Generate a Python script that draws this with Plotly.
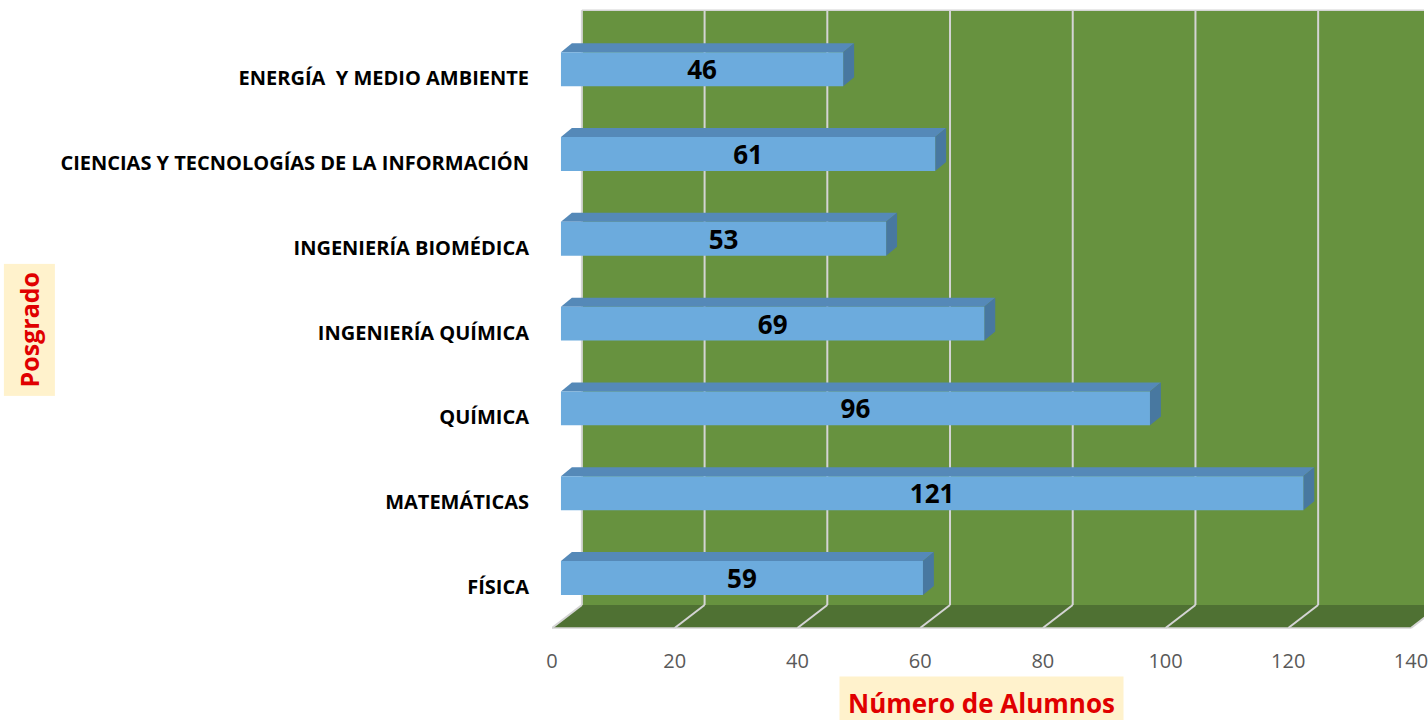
import plotly.graph_objects as go

# ---- data ----
categories = ["FÍSICA", "MATEMÁTICAS", "QUÍMICA", "INGENIERÍA QUÍMICA",
              "INGENIERÍA BIOMÉDICA", "CIENCIAS Y TECNOLOGÍAS DE LA INFORMACIÓN",
              "ENERGÍA\u00a0 Y MEDIO AMBIENTE"]
values = [59, 121, 96, 69, 53, 61, 46]
x_ticks = [0, 20, 40, 60, 80, 100, 120, 140]
x_title = "Número de Alumnos"
y_title = "Posgrado"

# ---- style / geometry constants ----
X_MAX = 142.12          # front-plane range
Y_MIN, Y_MAX = -0.507, 6.863
DXB, DYB = 1.46, 0.106  # bar plane offset from front plane
DXF, DYF = 1.78, 0.106  # bar 3D depth
DXW, DYW = 4.87, 0.271  # wall offset from front plane
BW = 0.40
WALL = "#67923F"
FLOOR = "#4F7133"
GRID = "#D4D4D4"
BAR = "#6CABDD"
BAR_TOP = "#5589B8"
BAR_SIDE = "#4878A0"
RED = "#E00000"
CREAM = "#FFF2CC"

idx = list(range(len(categories)))
floor_front = Y_MIN + 0.024
floor_back = floor_front + DYW
wall_top = 6.80

shapes = []
# back wall
shapes.append(dict(type="rect", xref="x", yref="y", x0=DXW, x1=X_MAX + 10,
                   y0=floor_back, y1=wall_top, fillcolor=WALL, line=dict(width=0), layer="below"))
# floor
shapes.append(dict(type="path", xref="x", yref="y",
                   path=f"M 0,{floor_front} L {x_ticks[-1]},{floor_front} L {x_ticks[-1]+DXW},{floor_back} L {DXW},{floor_back} Z",
                   fillcolor=FLOOR, line=dict(width=0), layer="below"))
# wall top edge
shapes.append(dict(type="line", xref="x", yref="y", x0=DXW, x1=X_MAX + 10, y0=wall_top, y1=wall_top,
                   line=dict(color=GRID, width=1.5), layer="below"))
# floor front edge
shapes.append(dict(type="line", xref="x", yref="y", x0=0, x1=x_ticks[-1], y0=floor_front, y1=floor_front,
                   line=dict(color=GRID, width=1.5), layer="below"))
for v in x_ticks:
    shapes.append(dict(type="line", xref="x", yref="y", x0=v + DXW, x1=v + DXW, y0=floor_back, y1=wall_top,
                       line=dict(color=GRID, width=2), layer="below"))
    shapes.append(dict(type="line", xref="x", yref="y", x0=v, x1=v + DXW, y0=floor_front, y1=floor_back,
                       line=dict(color=GRID, width=2), layer="below"))
# bar 3D faces
for c, v in zip(idx, values):
    t = c + BW / 2
    b = c - BW / 2
    shapes.append(dict(type="path", xref="x2", yref="y2",
                       path=f"M 0,{t} L {v},{t} L {v+DXF},{t+DYF} L {DXF},{t+DYF} Z",
                       fillcolor=BAR_TOP, line=dict(width=0), layer="below"))
    shapes.append(dict(type="path", xref="x2", yref="y2",
                       path=f"M {v},{b} L {v+DXF},{b+DYF} L {v+DXF},{t+DYF} L {v},{t} Z",
                       fillcolor=BAR_SIDE, line=dict(width=0), layer="below"))

fig = go.Figure()
fig.add_trace(go.Bar(
    x=values, y=idx, orientation="h", width=BW,
    marker=dict(color=BAR, line=dict(width=0)),
    text=[str(v) for v in values], textposition="inside", insidetextanchor="middle",
    textangle=0, constraintext="none",
    textfont=dict(family="Open Sans", size=26, color="black", weight="bold"),
    xaxis="x2", yaxis="y2", showlegend=False, hoverinfo="x+y"))

fig.update_layout(
    width=1428, height=720,
    margin=dict(l=552, r=0, t=5, b=90),
    paper_bgcolor="white", plot_bgcolor="white",
    shapes=shapes,
    xaxis=dict(range=[0, X_MAX], tickvals=x_ticks, ticktext=[str(t) for t in x_ticks],
               showgrid=False, zeroline=False, showline=False,
               ticks="outside", ticklen=13, tickcolor="rgba(0,0,0,0)",
               ticklabeloverflow="allow",
               tickfont=dict(family="Open Sans", size=20, color="#595959"), fixedrange=True),
    yaxis=dict(range=[Y_MIN, Y_MAX], tickvals=idx, ticktext=categories,
               showgrid=False, zeroline=False, showline=False,
               ticks="outside", ticklen=18, tickcolor="rgba(0,0,0,0)",
               tickfont=dict(family="Open Sans", size=20, color="black", weight="bold"), fixedrange=True),
    xaxis2=dict(range=[-DXB, X_MAX - DXB], overlaying="x", visible=False, fixedrange=True),
    yaxis2=dict(range=[Y_MIN - DYB, Y_MAX - DYB], overlaying="y", visible=False, fixedrange=True),
    annotations=[
        dict(text=x_title, xref="paper", yref="paper", x=(983 - 552) / 876, y=(720 - 703 - 90) / 625,
             showarrow=False, font=dict(family="Open Sans", size=26, color=RED, weight="bold"),
             bgcolor=CREAM, borderpad=8, xanchor="center", yanchor="middle"),
        dict(text=y_title, xref="paper", yref="paper", x=(27 - 552) / 876, y=(720 - 330 - 90) / 625,
             showarrow=False, textangle=-90, font=dict(family="Open Sans", size=25, color=RED, weight="bold"),
             bgcolor=CREAM, borderpad=8, xanchor="center", yanchor="middle"),
    ],
)

fig.write_html("out.html", config={"displayModeBar": False},
               post_script="document.body.style.margin='0';")
